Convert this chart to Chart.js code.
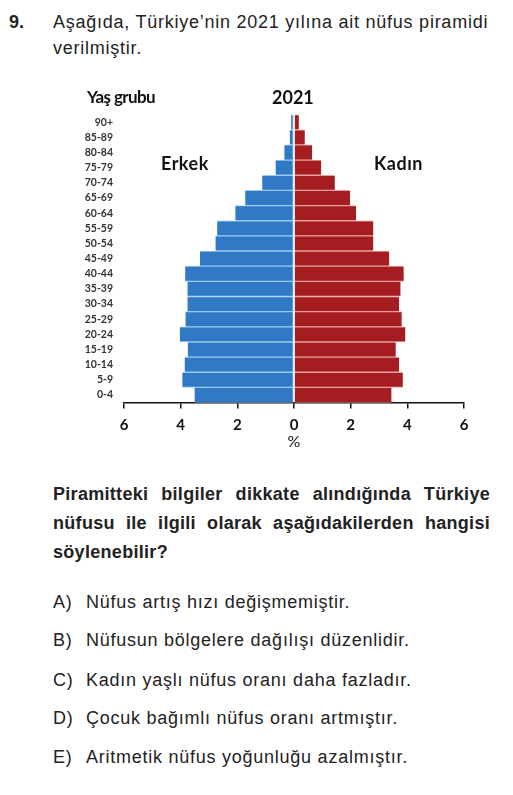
<!DOCTYPE html>
<html>
<head>
<meta charset="utf-8">
<script src="https://cdn.jsdelivr.net/npm/chart.js@4.4.1/dist/chart.umd.min.js"></script>
<style>
  html, body { margin: 0; padding: 0; background: #fff; }
  body { width: 513px; height: 795px; position: relative; overflow: hidden;
         font-family: "Liberation Sans", Arial, sans-serif; color: #222; }
  .t { position: absolute; white-space: nowrap; font-size: 18px; line-height: 26px; letter-spacing: 0.75px; }
  .j { position: absolute; left: 53px; width: 437px; font-size: 18px; font-weight: bold;
       line-height: 29px; text-align: justify; text-align-last: justify; white-space: nowrap; letter-spacing: 0.3px; }
  .jl { text-align-last: left; }
  .c { position: absolute; font-family: Lato, "Open Sans", sans-serif; font-weight: bold;
       color: #111; white-space: nowrap; line-height: 20px; }
  #wrap { position: absolute; left: 0; top: 80px; width: 513px; height: 380px; }
</style>
</head>
<body>
<div class="t" style="left:9px;top:9px;font-weight:bold;letter-spacing:0;">9.</div>
<div class="t" style="left:53px;top:9px;">Aşağıda, Türkiye’nin 2021 yılına ait nüfus piramidi</div>
<div class="t" style="left:53px;top:35px;">verilmiştir.</div>

<div id="wrap"><canvas id="c"></canvas></div>
<div class="c" style="left:87px;top:87px;font-size:17px;letter-spacing:-0.6px;">Yaş grubu</div>
<div class="c" style="left:272px;top:87px;font-size:18px;">2021</div>
<div class="c" style="left:161px;top:153px;font-size:18px;letter-spacing:0.5px;">Erkek</div>
<div class="c" style="left:374px;top:153px;font-size:18px;letter-spacing:0.5px;">Kadın</div>

<div class="j" style="top:480px;">Piramitteki bilgiler dikkate alındığında Türkiye</div>
<div class="j" style="top:509px;">nüfusu ile ilgili olarak aşağıdakilerden hangisi</div>
<div class="j jl" style="top:538px;">söylenebilir?</div>

<div class="t" style="left:53px;top:589px;">A)</div><div class="t" style="left:86px;top:589px;">Nüfus artış hızı değişmemiştir.</div>
<div class="t" style="left:53px;top:627px;">B)</div><div class="t" style="left:86px;top:627px;">Nüfusun bölgelere dağılışı düzenlidir.</div>
<div class="t" style="left:53px;top:667px;">C)</div><div class="t" style="left:86px;top:667px;">Kadın yaşlı nüfus oranı daha fazladır.</div>
<div class="t" style="left:53px;top:705px;">D)</div><div class="t" style="left:86px;top:705px;">Çocuk bağımlı nüfus oranı artmıştır.</div>
<div class="t" style="left:53px;top:744px;">E)</div><div class="t" style="left:86px;top:744px;">Aritmetik nüfus yoğunluğu azalmıştır.</div>

<script>
// Age groups from top (oldest) to bottom (youngest)
const ageGroups = ["90+","85-89","80-84","75-79","70-74","65-69","60-64","55-59","50-54","45-49",
                   "40-44","35-39","30-34","25-29","20-24","15-19","10-14","5-9","0-4"];
// Percent of total population
const maleValues   = [0.10,0.15,0.34,0.65,1.12,1.72,2.07,2.71,2.77,3.32,3.84,3.76,3.76,3.83,4.03,3.75,3.86,3.94,3.51];
const femaleValues = [0.17,0.38,0.64,0.96,1.44,1.98,2.19,2.80,2.80,3.36,3.87,3.76,3.71,3.80,3.93,3.59,3.71,3.84,3.44];
const xTicks = [-6,-4,-2,0,2,4,6];

new Chart(document.getElementById('c'), {
  type: 'bar',
  data: {
    labels: ageGroups,
    datasets: [
      { label: 'Erkek', data: maleValues.map(v => -v),
        backgroundColor: '#2F79C5', borderColor: '#9CCBF2',
        borderWidth: {top: 1, bottom: 1, left: 0, right: 1}, borderSkipped: false,
        barPercentage: 1, categoryPercentage: 1 },
      { label: 'Kadın', data: femaleValues,
        backgroundColor: '#A61D21', borderColor: '#E9A0A2',
        borderWidth: {top: 1, bottom: 1, left: 0, right: 0}, borderSkipped: false,
        barPercentage: 1, categoryPercentage: 1 }
    ]
  },
  options: {
    indexAxis: 'y',
    responsive: true, maintainAspectRatio: false, animation: false,
    layout: { padding: { top: 34.6, right: 49, left: 0, bottom: 0 } },
    plugins: { legend: { display: false }, tooltip: { enabled: false }, title: { display: false } },
    scales: {
      x: {
        stacked: true, min: -6, max: 6,
        afterBuildTicks: s => { s.ticks = xTicks.map(v => ({ value: v })); },
        afterFit: s => { s.height = 57.4; },
        grid: { display: true, drawOnChartArea: false, tickLength: 6, color: '#111', lineWidth: 1.5 },
        border: { display: true, color: '#111', width: 1.5 },
        ticks: { callback: v => Math.abs(v), color: '#111', padding: 8,
                 font: { family: 'Lato, "Open Sans", sans-serif', size: 15, weight: 'bold' } },
        title: { display: true, text: '%', color: '#111', padding: { top: 0, bottom: 9 },
                 font: { family: 'Lato, "Open Sans", sans-serif', size: 16 } }
      },
      y: {
        stacked: true,
        afterFit: s => { s.width = 124; },
        grid: { display: false, drawTicks: false },
        border: { display: false },
        ticks: { color: '#333', padding: 11, autoSkip: false,
                 font: { family: 'Lato, "Open Sans", sans-serif', size: 10.5, weight: 'bold' } }
      }
    }
  }
});
</script>
</body>
</html>
